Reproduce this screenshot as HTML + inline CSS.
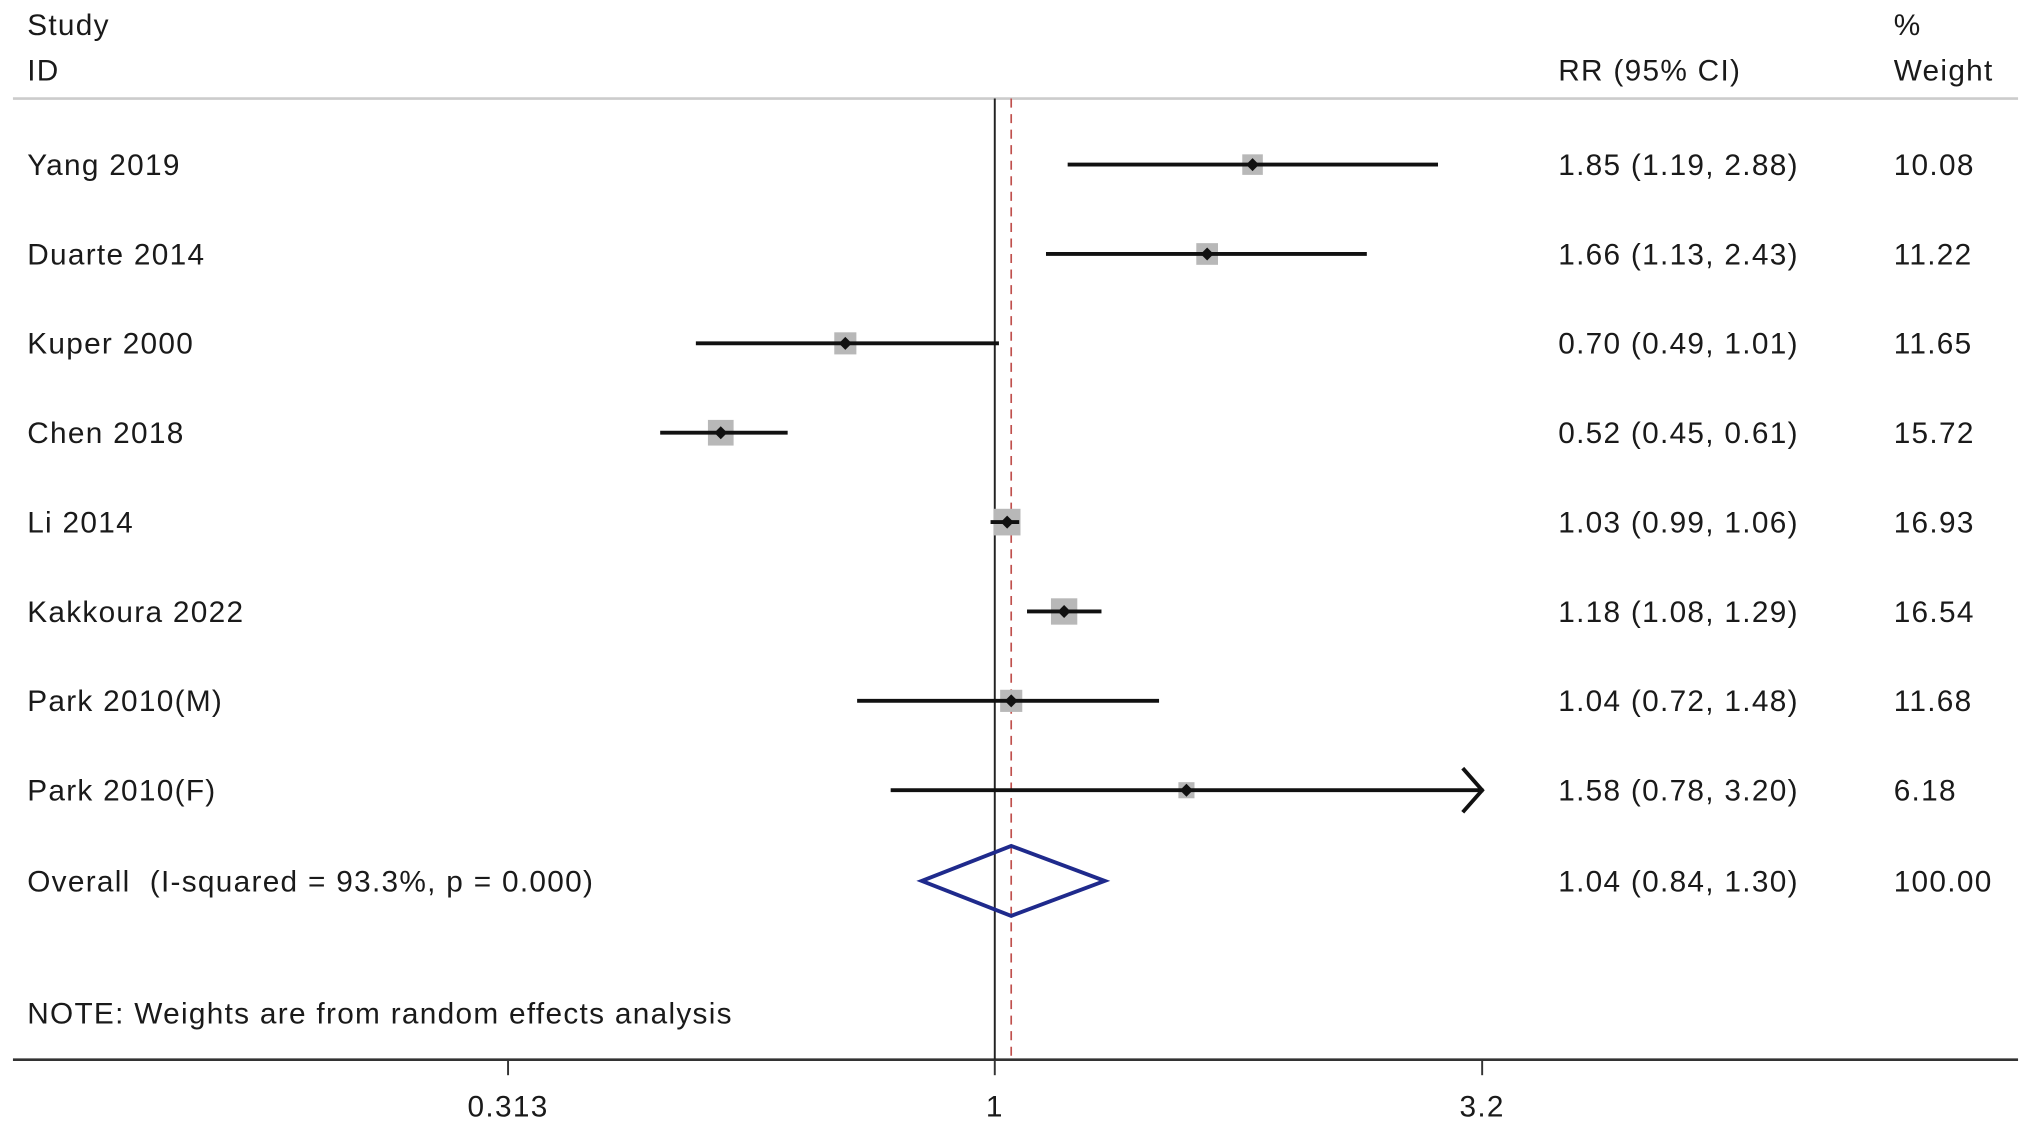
<!DOCTYPE html>
<html><head><meta charset="utf-8"><style>
html,body{margin:0;padding:0;background:#fff;}
svg{display:block;}
text{font-family:"Liberation Sans",sans-serif;font-size:23px;letter-spacing:1px;fill:#1a1a1a;}
</style></head><body>
<svg id="chart" width="2031" height="1131" viewBox="0 0 1568 873" xmlns="http://www.w3.org/2000/svg">
<rect width="1568" height="873" fill="#fff"/>
<text x="21" y="27">Study</text>
<text x="21" y="62">ID</text>
<text x="1203" y="62">RR (95% CI)</text>
<text x="1462" y="27">%</text>
<text x="1462" y="62">Weight</text>
<line x1="10" y1="76" x2="1558" y2="76" stroke="#ccc" stroke-width="2"/>
<line x1="10" y1="818" x2="1558" y2="818" stroke="#333" stroke-width="2"/>
<g id="marks"></g>
<text x="21" y="790">NOTE: Weights are from random effects analysis</text>
</svg>
<script>
const studies=["Yang 2019","Duarte 2014","Kuper 2000","Chen 2018","Li 2014","Kakkoura 2022","Park 2010(M)","Park 2010(F)"];
const rr=[1.85,1.66,0.70,0.52,1.03,1.18,1.04,1.58];
const lower=[1.19,1.13,0.49,0.45,0.99,1.08,0.72,0.78];
const upper=[2.88,2.43,1.01,0.61,1.06,1.29,1.48,3.20];
const weights=[10.08,11.22,11.65,15.72,16.93,16.54,11.68,6.18];
const overall=[1.04,0.84,1.30];
const overallLabel="Overall  (I-squared = 93.3%, p = 0.000)";
const ticks=[0.313,1,3.2];
const tickLabels=["0.313","1","3.2"];
const axisMax=3.2;

const NS="http://www.w3.org/2000/svg";
const g=document.getElementById('marks');
const X=v=>768+323.5*Math.log(v);
const Y=i=>127+69*i;
function mk(tag,attrs,parent){const e=document.createElementNS(NS,tag);for(const k in attrs)e.setAttribute(k,attrs[k]);(parent||g).appendChild(e);return e;}
const f=v=>v.toFixed(2);

let e=mk('line',{x1:X(1),y1:76,x2:X(1),y2:818,stroke:'#222','stroke-width':1.5});


e=mk('line',{x1:X(overall[0]),y1:76,x2:X(overall[0]),y2:818,stroke:'#c0504d','stroke-width':1.3,'stroke-dasharray':'7,5'});



ticks.forEach((t,i)=>{
  let l=mk('line',{x1:X(t),y1:818,x2:X(t),y2:830,stroke:'#333','stroke-width':1.5});
  
  
  let tx=mk('text',{x:X(t),y:862,'text-anchor':'middle'});tx.textContent=tickLabels[i];
  
  
});

studies.forEach((s,i)=>{
  const y=Y(i);
  let t=mk('text',{x:21,y:y+8});t.textContent=s;
  
  
  t=mk('text',{x:1203,y:y+8});t.textContent=f(rr[i])+" ("+f(lower[i])+", "+f(upper[i])+")";
  
  
  t=mk('text',{x:1462,y:y+8});t.textContent=f(weights[i]);
  
  
  const sz=5*Math.sqrt(weights[i]);
  let b=mk('rect',{x:X(rr[i])-sz/2,y:y-sz/2,width:sz,height:sz,fill:'#b8b8b8'});
  
  
  const hi=Math.min(upper[i],axisMax);
  let l=mk('line',{x1:X(lower[i]),y1:y,x2:X(hi)+(upper[i]>=axisMax?1:0),y2:y,stroke:'#111','stroke-width':3});
  
  
  if(upper[i]>=axisMax){
    let a=mk('polyline',{points:(X(axisMax)-15)+","+(y-17)+" "+X(axisMax)+","+y+" "+(X(axisMax)-15)+","+(y+17),fill:'none',stroke:'#111','stroke-width':3});
    
    
  }
  const cx=X(rr[i]);
  let d=mk('polygon',{points:(cx-5)+","+y+" "+cx+","+(y-5)+" "+(cx+5)+","+y+" "+cx+","+(y+5),fill:'#111'});
  
  
});

const oy=680;
let t=mk('text',{x:21,y:oy+8});t.textContent=overallLabel;t.setAttribute('xml:space','preserve');t.style.whiteSpace='pre';


t=mk('text',{x:1203,y:oy+8});t.textContent=f(overall[0])+" ("+f(overall[1])+", "+f(overall[2])+")";


t=mk('text',{x:1462,y:oy+8});t.textContent="100.00";


let dm=mk('polygon',{points:X(overall[1])+","+oy+" "+X(overall[0])+","+(oy-27)+" "+X(overall[2])+","+oy+" "+X(overall[0])+","+(oy+27),fill:'none',stroke:'#1f2a8c','stroke-width':3});


</script>
</body></html>
